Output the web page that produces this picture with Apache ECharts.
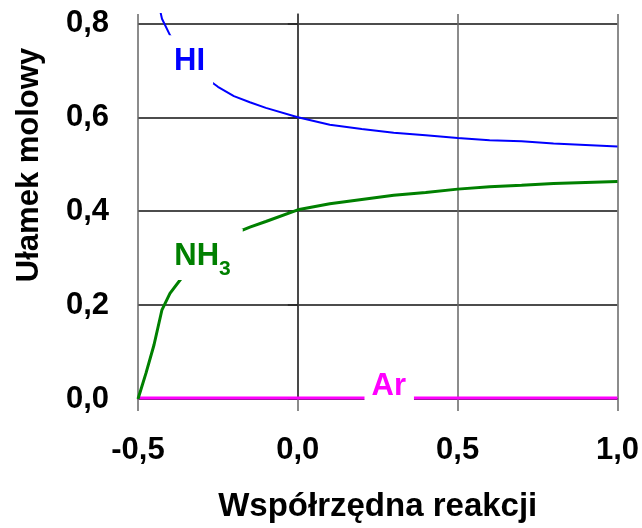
<!DOCTYPE html>
<html>
<head>
<meta charset="utf-8">
<script src="https://cdn.jsdelivr.net/npm/echarts@6/dist/echarts.min.js"></script>
<style>html,body{margin:0;padding:0;background:#fff}#c{width:642px;height:528px}</style>
</head>
<body>
<div id="c"></div>
<script>
// Reaction coordinate values
const xValues = [-0.5, -0.475, -0.45, -0.425, -0.4, -0.35, -0.3, -0.25, -0.2, -0.15, -0.1, 0.0, 0.1, 0.2, 0.3, 0.4, 0.5, 0.6, 0.7, 0.8, 0.9, 1.0];
// Mole fractions
const hiValues  = [1.0, 0.945, 0.885, 0.81, 0.775, 0.73, 0.69, 0.665, 0.645, 0.632, 0.62, 0.600, 0.584, 0.575, 0.567, 0.562, 0.556, 0.551, 0.549, 0.544, 0.541, 0.538];
const nh3Values = [0.0, 0.055, 0.115, 0.19, 0.225, 0.27, 0.31, 0.335, 0.352, 0.366, 0.378, 0.403, 0.416, 0.425, 0.434, 0.440, 0.447, 0.452, 0.455, 0.459, 0.461, 0.463];
const arValues  = [0.002, 0.002, 0.002, 0.002, 0.002, 0.002, 0.002, 0.002, 0.002, 0.002, 0.002, 0.002, 0.002, 0.002, 0.002, 0.002, 0.002, 0.002, 0.002, 0.002, 0.002, 0.002];
const yTickValues = [0, 0.2, 0.4, 0.6, 0.8];
const xTickValues = [-0.5, 0, 0.5, 1.0];
// Curve labels (data coordinates of label centres)
const labelNames = ['HI', 'NH3', 'Ar'];
const labelX = [-0.348, -0.284, 0.286];
const labelY = [0.7225, 0.308, 0.0286];

const FONT = '"Liberation Sans", Arial, sans-serif';
const fmt = v => v.toFixed(1).replace('.', ',');
const pair = (xs, ys) => xs.map((x, i) => [x, ys[i]]);

const labelStyles = {
  HI:  { color: '#0000ff', padding: [11, 8, 7, 14] },
  NH3: { color: '#008000', padding: [12, 12, 8, 3] },
  Ar:  { color: '#ff00ff', padding: [4, 8, 2, 7] }
};

const chart = echarts.init(document.getElementById('c'), null, { renderer: 'canvas' });
chart.setOption({
  animation: false,
  backgroundColor: '#ffffff',
  grid: { left: 138, right: 23, top: 14, bottom: 127, containLabel: false },
  xAxis: {
    type: 'value', min: -0.5, max: 1.0, interval: 0.5,
    name: 'Współrzędna reakcji', nameLocation: 'middle', nameGap: 91,
    nameTextStyle: { fontFamily: FONT, fontWeight: 'bold', fontSize: 33, color: '#000' },
    axisLine: { show: true, onZero: false, lineStyle: { color: '#333', width: 1.5 } },
    axisTick: { show: true, inside: false, length: 12, lineStyle: { color: '#666', width: 1.5 } },
    axisLabel: { margin: 36, fontFamily: FONT, fontWeight: 'bold', fontSize: 31, color: '#000', formatter: fmt, customValues: xTickValues },
    splitLine: { show: true, lineStyle: { color: '#666', width: 1.5 } }
  },
  yAxis: {
    type: 'value', min: 0, max: 0.82, interval: 0.2,
    axisLine: { show: true, lineStyle: { color: '#333', width: 1.5 } },
    axisTick: { show: true, length: 10, lineStyle: { color: '#222', width: 1.5 }, customValues: yTickValues },
    axisLabel: { margin: 29, fontFamily: FONT, fontWeight: 'bold', fontSize: 31, color: '#000', formatter: fmt, customValues: yTickValues },
    splitLine: { show: true, lineStyle: { color: '#111', width: 1.5 } }
  },
  graphic: [{
    type: 'text', x: 29, y: 165, rotation: Math.PI / 2, z: 100,
    style: { text: 'Ułamek molowy', fontFamily: FONT, fontWeight: 'bold', fontSize: 31, fill: '#000', align: 'center', verticalAlign: 'middle' }
  }],
  series: [
    { name: 'Ar', type: 'line', data: pair(xValues, arValues), showSymbol: false, lineStyle: { color: '#ff00ff', width: 3 }, z: 3 },
    { name: 'NH3', type: 'line', data: pair(xValues, nh3Values), showSymbol: false, lineStyle: { color: '#008000', width: 3 }, z: 3 },
    { name: 'HI', type: 'line', data: pair(xValues, hiValues), showSymbol: false, lineStyle: { color: '#0000ff', width: 2 }, z: 3 },
    {
      type: 'scatter', z: 10, symbolSize: 0.1, silent: true,
      itemStyle: { opacity: 1, color: 'rgba(0,0,0,0)' },
      emphasis: { disabled: true },
      data: labelNames.map((n, i) => ({
        value: [labelX[i], labelY[i]], name: n,
        label: {
          show: true, position: 'inside', backgroundColor: '#ffffff', opacity: 1,
          padding: labelStyles[n].padding,
          color: labelStyles[n].color,
          fontFamily: FONT, fontWeight: 'bold', fontSize: 31,
          formatter: n === 'NH3' ? '{a|NH}{b|3}' : n,
          rich: {
            a: { fontFamily: FONT, fontWeight: 'bold', fontSize: 31, color: labelStyles[n].color, verticalAlign: 'bottom' },
            b: { fontFamily: FONT, fontWeight: 'bold', fontSize: 21, color: labelStyles[n].color, verticalAlign: 'bottom', padding: [0, 0, -8, 0] }
          }
        }
      }))
    }
  ]
});
</script>
</body>
</html>
